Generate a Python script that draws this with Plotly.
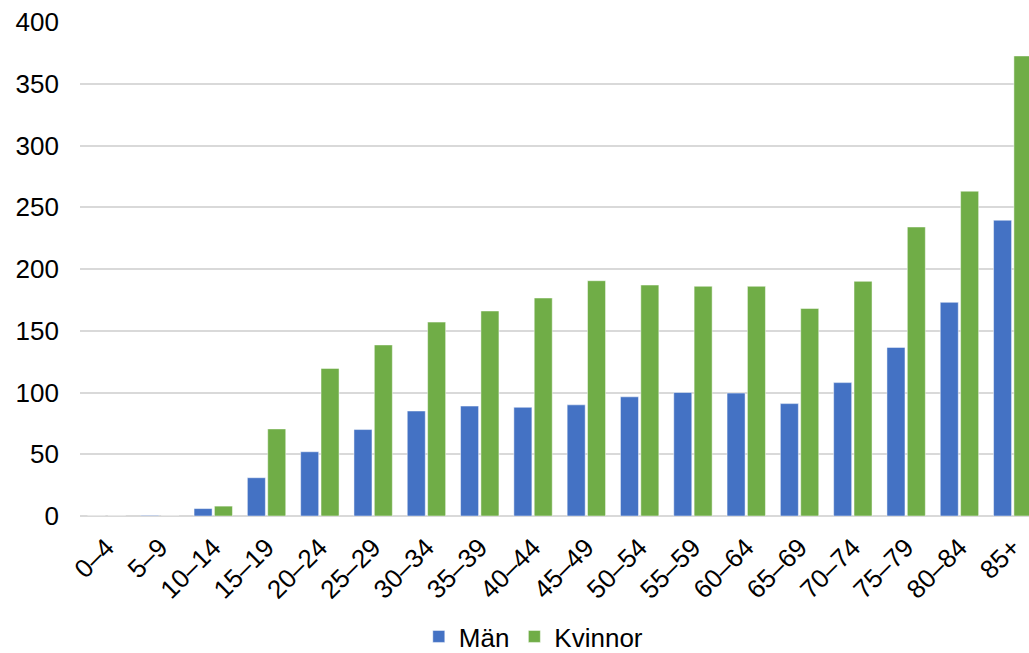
import plotly.graph_objects as go

# Age groups and rates per group
age_groups = ["0–4", "5–9", "10–14", "15–19", "20–24", "25–29", "30–34", "35–39",
              "40–44", "45–49", "50–54", "55–59", "60–64", "65–69", "70–74",
              "75–79", "80–84", "85+"]
man = [0, 0.5, 6, 31, 52, 70, 85, 89, 88, 90, 96.5, 100, 99.5, 91, 108, 136.5, 173, 239.5]
kvinnor = [0, 0, 8, 70.5, 119.5, 138.5, 157, 166, 176.5, 190.5, 187, 186, 186, 168, 190, 234, 263, 372.5]
y_ticks = [0, 50, 100, 150, 200, 250, 300, 350, 400]

FONT = "Liberation Sans, Arial, sans-serif"
BLUE = "#4472C4"
GREEN = "#70AD47"

fig = go.Figure()
fig.add_trace(go.Bar(x=age_groups, y=man, name="Män",
                     marker=dict(color=BLUE, line=dict(color="rgba(255,255,255,0.6)", width=0.8))))
fig.add_trace(go.Bar(x=age_groups, y=kvinnor, name="Kvinnor",
                     marker=dict(color=GREEN, line=dict(color="rgba(255,255,255,0.6)", width=0.8))))

fig.update_layout(
    width=1029, height=653,
    margin=dict(l=80, r=0, t=22, b=137, autoexpand=False),
    paper_bgcolor="white", plot_bgcolor="white",
    barmode="group", bargap=0.236, bargroupgap=0.115,
    font=dict(family=FONT, size=26, color="#000000"),
    showlegend=True,
    legend=dict(orientation="h", x=0.357, xanchor="left", y=-0.244, yanchor="middle",
                font=dict(family=FONT, size=26, color="#000000"),
                itemwidth=30, traceorder="normal", bgcolor="rgba(0,0,0,0)"),
    xaxis=dict(range=[-0.5, 17.305], tickangle=-45, showgrid=False, showline=False,
               ticks="", ticklabelstandoff=10, automargin=False,
               tickfont=dict(family=FONT, size=26, color="#000000")),
    yaxis=dict(range=[0, 400], tickvals=y_ticks, showgrid=True, gridcolor="#D9D9D9",
               gridwidth=1.5, zeroline=True, zerolinecolor="#D9D9D9", zerolinewidth=1.5,
               showline=False, ticks="", ticklabelstandoff=20, automargin=False,
               tickfont=dict(family=FONT, size=26, color="#000000")),
)

fig.write_html("out.html")
